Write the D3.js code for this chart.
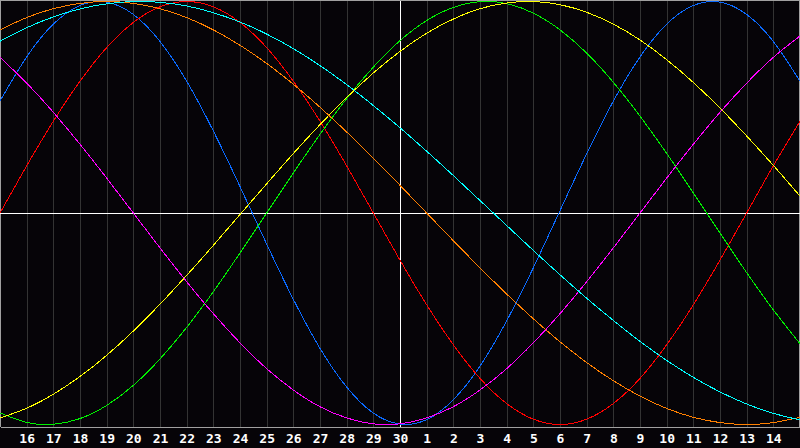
<!DOCTYPE html>
<html>
<head>
<meta charset="utf-8">
<script src="https://cdn.jsdelivr.net/npm/d3@7"></script>
<style>
  html, body { margin: 0; padding: 0; background: #060408; }
  svg { display: block; }
</style>
</head>
<body>
<svg id="chart"></svg>
<script>
const width = 800;
const height = 448;
const plotBottom = 427;

// days shown along the bottom (first and last are the edges, not labelled)
const days = [15, 16, 17, 18, 19, 20, 21, 22, 23, 24, 25, 26, 27, 28, 29, 30,
              1, 2, 3, 4, 5, 6, 7, 8, 9, 10, 11, 12, 13, 14, 15];
const todayIndex = 15;

// cycle values read per day (-1 .. 1)
const blueVals = [0.529, 0.738, 0.893, 0.981, 0.997, 0.939, 0.811, 0.623, 0.388, 0.125,
                  -0.147, -0.408, -0.640, -0.823, -0.946, -0.998, -0.977, -0.883, -0.724, -0.510,
                  -0.259, 0.011, 0.280, 0.529, 0.738, 0.893, 0.981, 0.997, 0.939, 0.811, 0.623];
const redVals = [0, 0.223, 0.434, 0.623, 0.782, 0.901, 0.975, 1, 0.975, 0.901,
                 0.782, 0.623, 0.434, 0.223, 0, -0.223, -0.434, -0.623, -0.782, -0.901,
                 -0.975, -1, -0.975, -0.901, -0.782, -0.623, -0.434, -0.223, 0, 0.223, 0.434];
const greenVals = [-0.945, -0.990, -0.999, -0.972, -0.910, -0.815, -0.690, -0.541, -0.372, -0.189,
                   0, 0.189, 0.372, 0.541, 0.690, 0.815, 0.910, 0.972, 0.999, 0.990,
                   0.945, 0.866, 0.756, 0.618, 0.458, 0.282, 0.095, -0.095, -0.282, -0.458, -0.618];
const magentaVals = [0.736, 0.614, 0.476, 0.325, 0.165, 0, -0.165, -0.325, -0.476, -0.614,
                     -0.736, -0.837, -0.916, -0.969, -0.997, -0.997, -0.969, -0.916, -0.837, -0.736,
                     -0.614, -0.476, -0.325, -0.165, 0, 0.165, 0.325, 0.476, 0.614, 0.736, 0.837];
const yellowVals = [-0.969, -0.923, -0.857, -0.773, -0.673, -0.558, -0.431, -0.295, -0.153, -0.007,
                    0.138, 0.281, 0.418, 0.546, 0.662, 0.764, 0.850, 0.917, 0.966, 0.993,
                    1.000, 0.985, 0.949, 0.893, 0.818, 0.725, 0.617, 0.496, 0.364, 0.225, 0.080];
const orangeVals = [0.866, 0.924, 0.966, 0.991, 1, 0.991, 0.966, 0.924, 0.866, 0.793,
                    0.707, 0.609, 0.500, 0.383, 0.259, 0.131, 0, -0.131, -0.259, -0.383,
                    -0.500, -0.609, -0.707, -0.793, -0.866, -0.924, -0.966, -0.991, -1, -0.991, -0.966];
const cyanVals = [0.812, 0.876, 0.927, 0.965, 0.989, 1.000, 0.996, 0.979, 0.947, 0.903,
                  0.846, 0.777, 0.697, 0.607, 0.508, 0.403, 0.292, 0.177, 0.059, -0.059,
                  -0.177, -0.292, -0.403, -0.508, -0.607, -0.697, -0.777, -0.846, -0.903, -0.947, -0.979];

const series = [
  { name: "blue", color: "#0a6aff", values: blueVals },
  { name: "red", color: "#ff0000", values: redVals },
  { name: "green", color: "#00f000", values: greenVals },
  { name: "magenta", color: "#ff00ff", values: magentaVals },
  { name: "yellow", color: "#ffff00", values: yellowVals },
  { name: "orange", color: "#ff8000", values: orangeVals },
  { name: "cyan", color: "#00ffff", values: cyanVals }
];

const svg = d3.select("#chart")
              .attr("width", width)
              .attr("height", height);

svg.append("rect")
   .attr("width", width)
   .attr("height", height)
   .attr("fill", "#060408");

const xScale = d3.scaleLinear()
                 .domain([0, days.length - 1])
                 .range([0, width]);
const yScale = d3.scaleLinear()
                 .domain([-1, 1])
                 .range([424.5, 1.5]);

// vertical day grid
const tickIdx = d3.range(1, days.length - 1);
svg.append("g")
   .selectAll("line")
   .data(tickIdx)
   .enter()
   .append("line")
   .attr("x1", d => Math.round(xScale(d)) + 0.5)
   .attr("x2", d => Math.round(xScale(d)) + 0.5)
   .attr("y1", 0)
   .attr("y2", plotBottom)
   .attr("stroke", d => d === todayIndex ? "#ffffff" : "#333333")
   .attr("shape-rendering", "crispEdges");

// frame
svg.append("path")
   .attr("d", `M0.5,${plotBottom} V0.5 H799.5 V${plotBottom}`)
   .attr("fill", "none")
   .attr("stroke", "#a0a0a0")
   .attr("shape-rendering", "crispEdges");

// zero line
svg.append("line")
   .attr("x1", 0)
   .attr("x2", width)
   .attr("y1", Math.round(yScale(0)) + 0.5)
   .attr("y2", Math.round(yScale(0)) + 0.5)
   .attr("stroke", "#ffffff")
   .attr("shape-rendering", "crispEdges");

// curves
const line = d3.line()
               .x((d, i) => xScale(i))
               .y(d => yScale(d))
               .curve(d3.curveNatural);

svg.append("g")
   .selectAll("path")
   .data(series)
   .enter()
   .append("path")
   .attr("d", d => line(d.values))
   .attr("fill", "none")
   .attr("stroke", d => d.color)
   .attr("stroke-width", 1)
   .attr("shape-rendering", "crispEdges");

// bottom axis
const xAxis = d3.axisBottom(xScale)
                .tickValues(tickIdx)
                .tickSize(0)
                .tickPadding(7)
                .tickFormat(i => days[i]);

const gx = svg.append("g")
              .attr("transform", `translate(0, ${plotBottom})`)
              .call(xAxis);
gx.select(".domain")
  .attr("stroke", "#a0a0a0")
  .attr("shape-rendering", "crispEdges");
gx.selectAll("text")
  .attr("fill", "#ffffff")
  .attr("font-family", "'DejaVu Sans Mono', monospace")
  .attr("font-weight", "bold")
  .attr("font-size", 13);
</script>
</body>
</html>
